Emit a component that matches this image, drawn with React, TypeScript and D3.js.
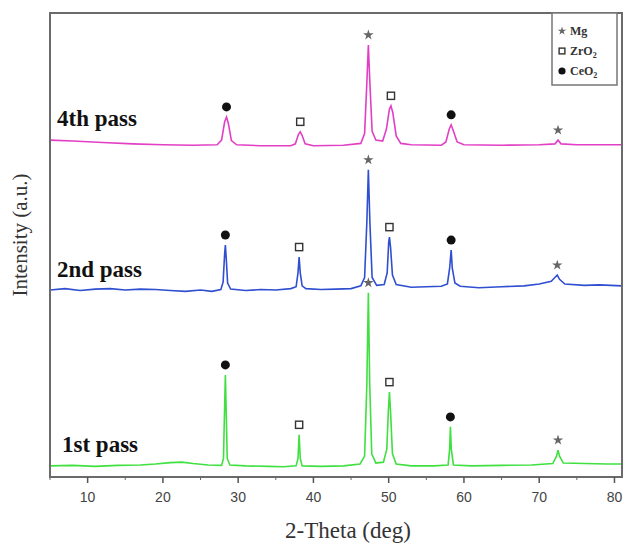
import React from "react";
import * as d3 from "d3";

// XRD patterns, [2theta, intensity a.u.]
const pass4: [number, number][] = [
  [5, 72.6], [8, 72.4], [12, 72.1], [16, 71.8], [20, 71.6], [24, 71.5], [27.2, 71.6],
  [27.8, 72.6], [28.2, 76.5], [28.45, 77.6], [28.7, 76.2], [29.1, 72.5], [29.8, 71.6],
  [33, 71.4], [37, 71.4], [37.6, 71.8], [38.0, 73.8], [38.25, 74.4], [38.5, 73.6],
  [38.9, 71.8], [40, 71.4], [44, 71.5], [46.3, 71.9], [46.8, 74], [47.1, 85],
  [47.3, 93.1], [47.5, 85], [47.8, 74.5], [48.3, 72.6], [49.2, 72.4], [49.7, 75],
  [50.1, 79.3], [50.3, 80], [50.55, 78.5], [51, 73.5], [51.6, 71.9], [53, 71.6],
  [57, 71.5], [57.6, 72.2], [58.05, 75], [58.3, 75.9], [58.55, 74.8], [59.1, 72.2],
  [60, 71.6], [65, 71.5], [70, 71.6], [72.1, 71.8], [72.5, 72.6], [72.9, 71.8],
  [75, 71.6], [81, 71.6],
];

const pass2: [number, number][] = [
  [5, 40.3], [7, 40.6], [9, 40.2], [11, 40.5], [13, 40.6], [15, 40.3], [17, 40.5],
  [19, 40.4], [21, 40.2], [23, 40.0], [25, 40.3], [26.5, 40.0], [27.7, 40.4],
  [28.0, 42], [28.2, 48], [28.3, 50], [28.42, 47], [28.6, 41.8], [29, 40.5],
  [31, 40.2], [33, 40.4], [35, 40.3], [37, 40.6], [37.7, 41], [37.95, 44],
  [38.1, 47.4], [38.25, 44], [38.5, 41.2], [39, 40.6], [41, 40.4], [43, 40.5],
  [45, 40.6], [46.3, 41.2], [46.8, 43], [47.1, 55], [47.3, 66.2], [47.5, 55],
  [47.8, 43], [48.4, 41.3], [49.4, 41.5], [49.8, 44], [50.0, 50.5], [50.1, 51.7],
  [50.25, 49.5], [50.5, 43.5], [51, 41.5], [53, 40.9], [55, 41], [57, 41.1],
  [57.8, 41.6], [58.1, 45], [58.3, 48.9], [58.45, 45], [58.8, 41.8], [59.5, 41.1],
  [62, 40.8], [65, 41], [68, 41.2], [70, 41.6], [71.6, 42.2], [72.2, 43.2],
  [72.4, 43.5], [72.7, 42.6], [73.4, 41.6], [76, 41.3], [78, 41.4], [81, 41.2],
];

const pass1: [number, number][] = [
  [5, 2.4], [8, 2.5], [11, 2.3], [14, 2.5], [17, 2.6], [19, 2.8], [21, 3.1],
  [22.5, 3.2], [24, 2.9], [26, 2.6], [27.8, 2.5], [28.05, 4], [28.2, 15], [28.3, 22],
  [28.4, 15], [28.55, 4], [28.9, 2.6], [31, 2.4], [34, 2.3], [36, 2.2], [37.7, 2.4],
  [37.95, 4], [38.1, 9.1], [38.25, 4], [38.5, 2.4], [41, 2.3], [44, 2.4], [46.2, 2.8],
  [46.8, 4.5], [47.1, 20], [47.3, 39.7], [47.48, 20], [47.75, 5], [48.3, 3.0],
  [49.3, 3.2], [49.75, 6], [49.95, 14], [50.1, 18.3], [50.25, 14], [50.5, 5],
  [51, 2.8], [53, 2.4], [56, 2.4], [57.9, 2.6], [58.1, 6], [58.2, 10.8], [58.32, 6],
  [58.6, 2.6], [61, 2.4], [65, 2.5], [69, 2.6], [71.8, 2.9], [72.3, 4.5], [72.5, 5.8],
  [72.7, 4.5], [73.2, 3], [76, 2.9], [79, 2.8], [81, 2.8],
];

// phase markers: [2theta, phase]
const peaks4: [number, string][] = [[28.45, "CeO2"], [38.25, "ZrO2"], [47.3, "Mg"], [50.3, "ZrO2"], [58.3, "CeO2"], [72.5, "Mg"]];
const peaks2: [number, string][] = [[28.3, "CeO2"], [38.1, "ZrO2"], [47.3, "Mg"], [50.1, "ZrO2"], [58.3, "CeO2"], [72.4, "Mg"]];
const peaks1: [number, string][] = [[28.3, "CeO2"], [38.1, "ZrO2"], [47.3, "Mg"], [50.1, "ZrO2"], [58.2, "CeO2"], [72.5, "Mg"]];

const seriesNames = ["4th pass", "2nd pass", "1st pass"];
const seriesColors = ["#e23fc5", "#2f4fd0", "#3fe03f"];
const xTicks = [10, 20, 30, 40, 50, 60, 70, 80];
const xMinorTicks = [5, 15, 25, 35, 45, 55, 65, 75];
const legendItems = ["Mg", "ZrO2", "CeO2"];

const W = 626;
const H = 547;
const m = { left: 50, right: 4, top: 13, bottom: 70 };

const x = d3.scaleLinear().domain([5, 81]).range([m.left, W - m.right]);
const y = d3.scaleLinear().domain([0, 100]).range([H - m.bottom, m.top]);

const line = d3
  .line<[number, number]>()
  .x((d) => x(d[0]))
  .y((d) => y(d[1]));

const Marker = ({ phase, cx, cy, s = 1 }: { phase: string; cx: number; cy: number; s?: number }) => {
  if (phase === "CeO2") return <circle cx={cx} cy={cy} r={4.5 * s} fill="#111" />;
  if (phase === "ZrO2")
    return (
      <rect
        x={cx - 3.6 * s}
        y={cy - 3.6 * s}
        width={7.2 * s}
        height={7.2 * s}
        fill="#fff"
        stroke="#333"
        strokeWidth={1.4}
      />
    );
  return (
    <path
      d={d3.symbol(d3.symbolStar, 34 * s * s)() || ""}
      transform={`translate(${cx},${cy})`}
      fill="#666"
    />
  );
};

const PhaseText = ({ name }: { name: string }) => {
  if (name === "Mg") return <>Mg</>;
  return (
    <>
      {name.slice(0, -1)}
      <tspan fontSize={8} dy={3}>2</tspan>
    </>
  );
};

export default function App() {
  const all = [
    { data: pass4, peaks: peaks4, label: { x: 57, y: 126 } },
    { data: pass2, peaks: peaks2, label: { x: 57, y: 277 } },
    { data: pass1, peaks: peaks1, label: { x: 62, y: 452 } },
  ];
  const top = (data: [number, number][], t: number) =>
    d3.max(data.filter((d) => Math.abs(d[0] - t) < 0.3), (d) => d[1]) ?? 0;
  const y0 = H - m.bottom;

  return (
    <svg width={W} height={H} style={{ position: "absolute", left: 0, top: 0, background: "#fff" }}>
      {all.map((s, i) => (
        <g key={i}>
          <path d={line(s.data) || ""} fill="none" stroke={seriesColors[i]} strokeWidth={1.6} />
          {s.peaks.map(([t, p], j) => (
            <Marker key={j} phase={p} cx={x(t)} cy={y(top(s.data, t)) - 10} />
          ))}
          <text
            x={s.label.x}
            y={s.label.y}
            fontFamily="Liberation Serif, serif"
            fontWeight="bold"
            fontSize={23}
            fill="#111"
          >
            {seriesNames[i]}
          </text>
        </g>
      ))}

      {/* frame */}
      <rect
        x={m.left}
        y={m.top}
        width={W - m.left - m.right}
        height={y0 - m.top}
        fill="none"
        stroke="#6b6b6b"
        strokeWidth={2}
      />

      {/* x ticks */}
      {xTicks.map((t) => (
        <g key={t}>
          <line x1={x(t)} x2={x(t)} y1={y0} y2={y0 + 6} stroke="#555" strokeWidth={1.5} />
          <text
            x={x(t)}
            y={y0 + 25}
            textAnchor="middle"
            fontFamily="Liberation Sans, Arial, sans-serif"
            fontSize={14}
            fill="#444"
          >
            {t}
          </text>
        </g>
      ))}
      {xMinorTicks.map((t) => (
        <line key={t} x1={x(t)} x2={x(t)} y1={y0} y2={y0 + 3} stroke="#666" strokeWidth={1} />
      ))}

      <text
        x={348}
        y={538}
        textAnchor="middle"
        fontFamily="Liberation Serif, serif"
        fontSize={23}
        fill="#333"
      >
        2-Theta (deg)
      </text>
      <text
        transform={`translate(27,235) rotate(-90)`}
        textAnchor="middle"
        fontFamily="Liberation Serif, serif"
        fontSize={21}
        fill="#333"
      >
        Intensity (a.u.)
      </text>

      {/* legend */}
      <rect x={552} y={m.top} width={65} height={72} fill="#fff" stroke="#777" strokeWidth={1.5} />
      {legendItems.map((p, i) => (
        <g key={p}>
          <Marker phase={p} cx={562} cy={31 + i * 20} s={0.8} />
          <text
            x={570}
            y={35 + i * 20}
            fontFamily="Liberation Serif, serif"
            fontWeight="bold"
            fontSize={12}
            fill="#333"
          >
            <PhaseText name={p} />
          </text>
        </g>
      ))}
    </svg>
  );
}
